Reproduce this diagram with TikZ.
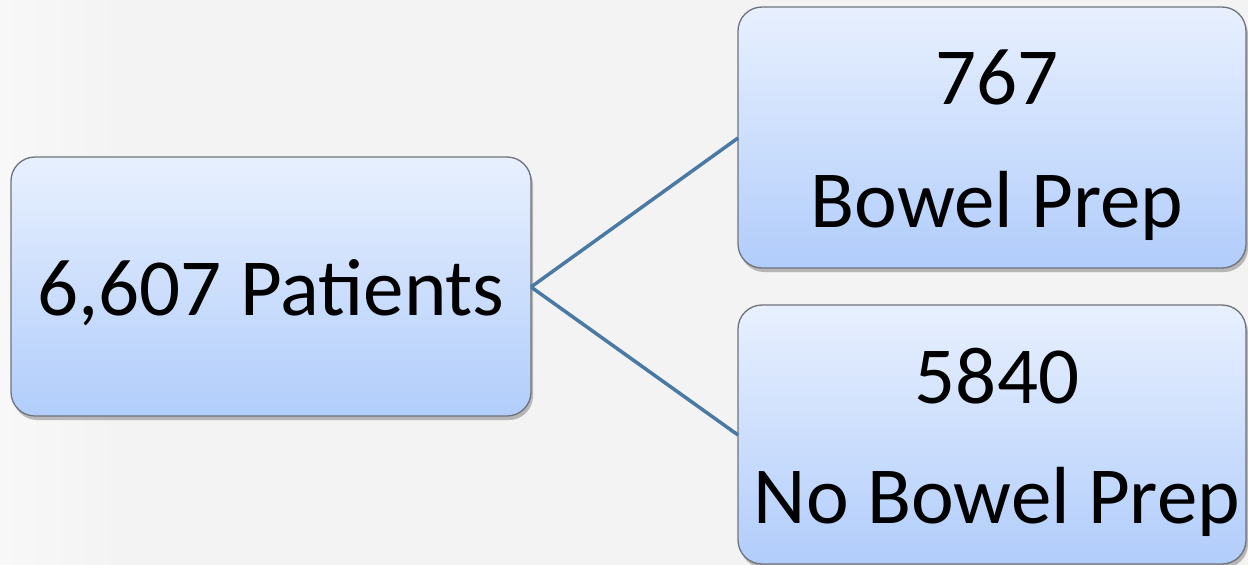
\documentclass[tikz,border=0pt]{standalone}
\usepackage{fontspec}
\setmainfont{Carlito}
\usetikzlibrary{shadows}
\definecolor{bg}{HTML}{F3F3F3}
\definecolor{bgl}{HTML}{F8F8F8}
\definecolor{boxtop}{HTML}{E8F0FE}
\definecolor{boxbot}{HTML}{B1CDFB}
\definecolor{boxline}{HTML}{6E737A}
\definecolor{conn}{HTML}{4A79A5}
\tikzset{
  box/.style={draw=boxline, line width=1.3pt, rounded corners=24pt,
    top color=boxtop, bottom color=boxbot,
    drop shadow={shadow xshift=2pt, shadow yshift=-4pt, fill=black, opacity=0.25}},
  lbl/.style={anchor=base, inner sep=0pt, font=\fontsize{81}{97}\selectfont},
  link/.style={draw=conn, line width=3.5pt}
}
\begin{document}
\begin{tikzpicture}[x=1pt,y=-1pt]
\fill[bg] (0,0) rectangle (1248,565);
\useasboundingbox (0,0) rectangle (1248,565);
\shade[left color=bgl, right color=bg] (0,0) rectangle (120,565);
% boxes
\path[box] (11,157) rectangle (531,416);
\path[box] (738,7) rectangle (1246,268);
\path[box] (738,305) rectangle (1246,564);
\coordinate (L) at (531,287);
\coordinate (T) at (738,138);
\coordinate (B) at (738,435);
\node[lbl] (pat) at (271,315) {6,607 Patients};
\node[lbl] (n1) at (997,104) {767};
\node[lbl] (t1) at (997,227) {Bowel Prep};
\node[lbl] (n2) at (997,403) {5840};
\node[lbl] (t2) at (997,523) {No Bowel Prep};
\draw[link] (L) -- (T);
\draw[link] (L) -- (B);
\end{tikzpicture}
\end{document}
